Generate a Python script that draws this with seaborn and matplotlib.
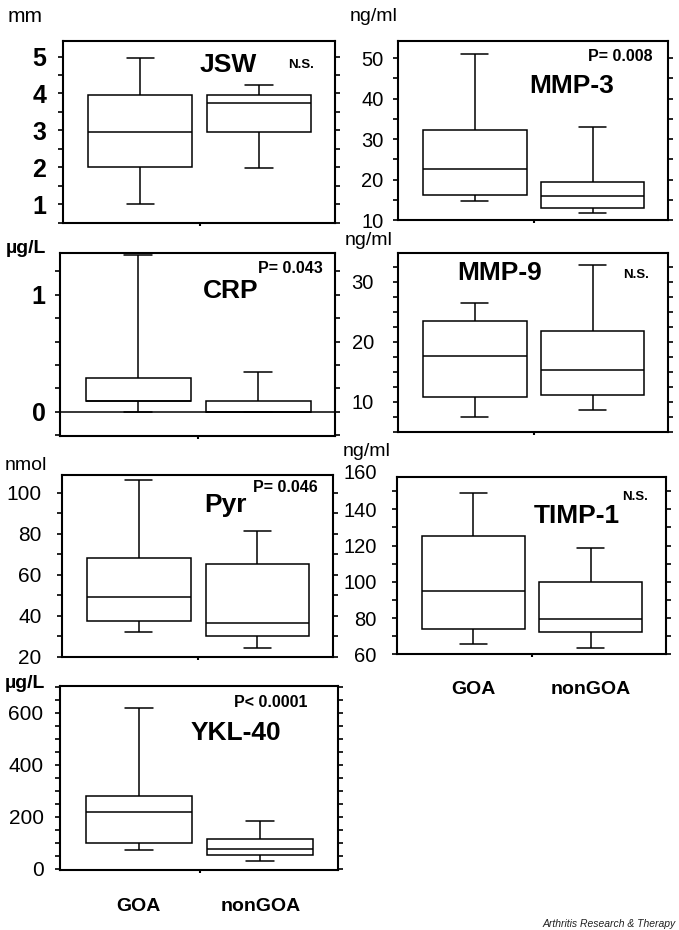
import matplotlib
matplotlib.use("Agg")
import numpy as np
import pandas as pd
import matplotlib.pyplot as plt
from matplotlib.ticker import MultipleLocator
import seaborn as sns

# ---------------- data ----------------
groups = ["GOA", "nonGOA"]

# five-number summaries: [whisker low, Q1, median, Q3, whisker high]
jsw_goa = [1.00, 2.00, 2.97, 3.96, 4.97]
jsw_non = [1.99, 2.97, 3.75, 3.96, 4.22]
mmp3_goa = [14.7, 16.3, 22.7, 32.3, 51.0]
mmp3_non = [11.7, 13.0, 15.9, 19.3, 33.0]
crp_goa = [0.0, 0.095, 0.095, 0.29, 1.34]
crp_non = [0.0, 0.0, 0.0, 0.095, 0.34]
mmp9_goa = [7.5, 10.7, 17.6, 23.5, 26.4]
mmp9_non = [8.6, 11.1, 15.2, 21.7, 32.8]
pyr_goa = [32.2, 37.6, 49.3, 68.3, 106.2]
pyr_non = [24.4, 30.1, 36.6, 65.1, 81.5]
timp_goa = [65.7, 74.0, 94.9, 125.4, 149.2]
timp_non = [63.5, 72.5, 79.7, 99.9, 118.5]
ykl_goa = [72, 100, 219, 281, 619]
ykl_non = [31, 53, 78, 114, 183]

jsw_ticks = [1, 2, 3, 4, 5]
mmp3_ticks = [10, 20, 30, 40, 50]
crp_ticks = [0, 1]
mmp9_ticks = [10, 20, 30]
pyr_ticks = [20, 40, 60, 80, 100]
timp_ticks = [60, 80, 100, 120, 140, 160]
ykl_ticks = [0, 200, 400, 600]

# ---------------- style ----------------
sns.set_style("ticks")
plt.rcParams["font.family"] = ["Liberation Sans", "DejaVu Sans"]
plt.rcParams["axes.edgecolor"] = "black"
plt.rcParams["xtick.color"] = "black"
plt.rcParams["ytick.color"] = "black"
plt.rcParams["text.color"] = "black"

W, H = 679, 930
fig = plt.figure(figsize=(W / 100, H / 100), dpi=100)
fig.patch.set_facecolor("white")


def rect(x0, y0, x1, y1):
    return [x0 / W, 1 - y1 / H, (x1 - x0) / W, (y1 - y0) / H]


def ftext(x, y, s, **kw):
    kw.setdefault("va", "baseline")
    fig.text(x / W, 1 - y / H, s, **kw)


TICKLEN = 3.5


def draw_panel(box_px, goa, non, ylim, ticks, minor, tsize, tweight, tpad,
               show_x=False, xpad=19):
    ax = fig.add_axes(rect(*box_px))
    df = pd.DataFrame({
        "group": np.repeat(groups, [len(goa), len(non)]),
        "value": list(goa) + list(non),
    })
    sns.boxplot(data=df, x="group", y="value", order=groups, whis=(0, 100),
                width=0.875, color="white", saturation=1, linecolor="black",
                linewidth=1.1, capwidths=0.23, ax=ax)
    ax.set_xlim(-0.65, 1.64)
    ax.set_ylim(*ylim)
    ax.set_xlabel("")
    ax.set_ylabel("")
    for s in ax.spines.values():
        s.set_visible(True)
        s.set_linewidth(1.5)
        s.set_color("black")
    vis = [t for t in ticks if ylim[0] - 1e-9 <= t <= ylim[1] + 1e-9]
    ax.set_yticks(vis, labels=[str(t) for t in vis], fontsize=tsize,
                  fontweight=tweight)
    ax.yaxis.set_minor_locator(MultipleLocator(minor))
    ax.tick_params(axis="y", which="both", direction="out", length=TICKLEN,
                   width=1.2, left=True, right=True, pad=tpad)
    for t in ticks:
        if t > ylim[1] + 1e-9:
            ax.annotate(str(t), xy=(0, t), xycoords=ax.get_yaxis_transform(),
                        xytext=(-(tpad + TICKLEN), 0), textcoords="offset points",
                        ha="right", va="center", fontsize=tsize,
                        fontweight=tweight, annotation_clip=False)
    ax.set_xticks([0, 1])
    if show_x:
        ax.set_xticklabels(groups, fontsize=14, fontweight="bold")
    else:
        ax.set_xticklabels(["", ""])
    ax.set_xticks([0.5], minor=True)
    ax.tick_params(axis="x", which="major", length=0, pad=xpad)
    ax.tick_params(axis="x", which="minor", length=2, width=1.5, bottom=True)
    return ax


# JSW
draw_panel((63, 40.7, 335, 222.7), jsw_goa, jsw_non, (0.5, 5.43), jsw_ticks,
           0.5, 18, "bold", 8.6)
# MMP-3
draw_panel((398.3, 40.7, 668.3, 220), mmp3_goa, mmp3_non, (10, 54.3),
           mmp3_ticks, 5, 14.5, "normal", 7)
# CRP
ax_crp = draw_panel((60, 252.7, 335, 435.7), crp_goa, crp_non, (-0.206, 1.36),
                    crp_ticks, 0.2, 18, "bold", 6.8)
ax_crp.axhline(0, color="black", lw=1.1, zorder=5)
# MMP-9
draw_panel((398.3, 253.3, 668.3, 432.3), mmp9_goa, mmp9_non, (4.9, 34.7),
           mmp9_ticks, 2.5, 14.5, "normal", 14)
# Pyr
draw_panel((61.7, 475, 333.3, 656.7), pyr_goa, pyr_non, (20, 108.6),
           pyr_ticks, 10, 15, "normal", 11)
# TIMP-1
draw_panel((396.7, 476.7, 666, 654.3), timp_goa, timp_non, (60, 158),
           timp_ticks, 10, 14.5, "normal", 11, show_x=True, xpad=19)
# YKL-40
draw_panel((60, 685.7, 338, 870), ykl_goa, ykl_non, (-4, 704),
           ykl_ticks, 50, 15, "normal", 8.3, show_x=True, xpad=20)

# ---------------- titles and annotations ----------------
TS = 19
ftext(228, 72, "JSW", fontsize=TS, fontweight="bold", ha="center")
ftext(301, 68, "N.S.", fontsize=9.5, fontweight="bold", ha="center")
ftext(572, 93, "MMP-3", fontsize=TS, fontweight="bold", ha="center")
ftext(653, 61, "P= 0.008", fontsize=11.5, fontweight="bold", ha="right")
ftext(231, 298, "CRP", fontsize=TS, fontweight="bold", ha="center")
ftext(323, 273, "P= 0.043", fontsize=11.5, fontweight="bold", ha="right")
ftext(500, 280, "MMP-9", fontsize=TS, fontweight="bold", ha="center")
ftext(636, 278, "N.S.", fontsize=9.5, fontweight="bold", ha="center")
ftext(226, 512, "Pyr", fontsize=TS, fontweight="bold", ha="center")
ftext(318, 492, "P= 0.046", fontsize=11.5, fontweight="bold", ha="right")
ftext(577, 523, "TIMP-1", fontsize=TS, fontweight="bold", ha="center")
ftext(635, 500, "N.S.", fontsize=9.5, fontweight="bold", ha="center")
ftext(236, 740, "YKL-40", fontsize=TS, fontweight="bold", ha="center")
ftext(308, 707, "P< 0.0001", fontsize=11.5, fontweight="bold", ha="right")

# units
US = 14
ftext(8, 22, "mm", fontsize=US + 1, ha="left")
ftext(350, 21, "ng/ml", fontsize=US, ha="left")
ftext(6, 253, "µg/L", fontsize=US, fontweight="bold", ha="left")
ftext(345, 245, "ng/ml", fontsize=US, ha="left")
ftext(5, 470, "nmol", fontsize=US, ha="left")
ftext(343, 456, "ng/ml", fontsize=US, ha="left")
ftext(5, 688, "µg/L", fontsize=US, fontweight="bold", ha="left")

ftext(676, 927, "Arthritis Research & Therapy", fontsize=7.5, style="italic",
      ha="right", color="#222222")

fig.savefig("out.png", dpi=100)
